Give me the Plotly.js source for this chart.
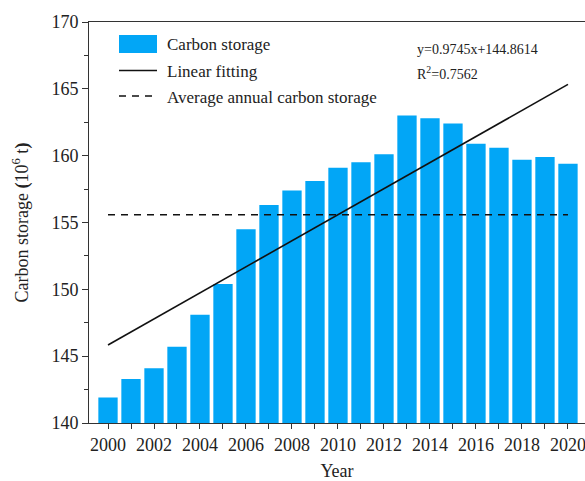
<!DOCTYPE html>
<html>
<head>
<meta charset="utf-8">
<script src="https://cdn.plot.ly/plotly-3.0.1.min.js"></script>
<style>html,body{margin:0;padding:0;overflow:hidden;background:#fff;}</style>
</head>
<body>
<div id="chart" style="width:585px;height:481px;"></div>
<script>
// ---- data ----
const years = [2000,2001,2002,2003,2004,2005,2006,2007,2008,2009,2010,2011,2012,2013,2014,2015,2016,2017,2018,2019,2020];
const carbonStorage = [141.9,143.3,144.1,145.7,148.1,150.4,154.5,156.3,157.4,158.1,159.1,159.5,160.1,163.0,162.8,162.4,160.9,160.6,159.7,159.9,159.4];
const fitYears = [2000, 2020];
const fitValues = [145.84, 165.33];
const avgYears = [2000, 2020];
const avgValues = [155.58, 155.58];
const xTickVals = [2000,2002,2004,2006,2008,2010,2012,2014,2016,2018,2020];
const xTickText = ['2000','2002','2004','2006','2008','2010','2012','2014','2016','2018','2020'];
const yTickVals = [140,145,150,155,160,165,170];
const legendNames = ['Carbon storage','Linear fitting','Average annual carbon storage'];
const equationText = 'y=0.9745x+144.8614';
const r2Text = 'R<sup>2</sup>=0.7562';

// ---- style ----
const FONT = 'Liberation Serif, Times New Roman, serif';
const BAR = '#02A6F6';
const INK = '#222';
const W = 585, H = 481;
const M = {l: 89, r: 0, t: 22, b: 58};
const PW = W - M.l - M.r, PH = H - M.t - M.b;
const px = x => (x - M.l) / PW;
const py = y => (H - M.b - y) / PH;

const traces = [
  {type:'bar', x: years, y: carbonStorage, width: 0.84, name: legendNames[0],
   marker:{color: BAR, line:{width:0}}, showlegend:false, hoverinfo:'x+y'},
  {type:'scatter', mode:'lines', x: fitYears, y: fitValues, name: legendNames[1],
   line:{color:'#111', width:1.6}, showlegend:false},
  {type:'scatter', mode:'lines', x: avgYears, y: avgValues, name: legendNames[2],
   line:{color:'#111', width:1.6, dash:'7px,6px'}, showlegend:false}
];

// manual legend (paper coordinates)
const shapes = [
  {type:'rect', xref:'paper', yref:'paper', x0: px(119), x1: px(157), y0: py(53), y1: py(35),
   fillcolor: BAR, line:{width:0}},
  {type:'line', xref:'paper', yref:'paper', x0: px(119), x1: px(157), y0: py(70.5), y1: py(70.5),
   line:{color:'#111', width:1.6}},
  {type:'line', xref:'paper', yref:'paper', x0: px(119), x1: px(157), y0: py(96), y1: py(96),
   line:{color:'#111', width:1.6, dash:'7px,6px'}}
];
const legY = [45, 71, 97];
const annotations = legendNames.map((t, i) => ({
  xref:'paper', yref:'paper', x: px(165), y: py(legY[i]), xanchor:'left', yanchor:'middle',
  text: t, showarrow:false, font:{family: FONT, size:17, color: INK}
}));
annotations.push({xref:'paper', yref:'paper', x: px(415), y: py(50), xanchor:'left', yanchor:'middle',
  text: equationText, showarrow:false, font:{family: FONT, size:14, color: INK}});
annotations.push({xref:'paper', yref:'paper', x: px(415), y: py(73), xanchor:'left', yanchor:'middle',
  text: r2Text, showarrow:false, font:{family: FONT, size:14, color: INK}});

const layout = {
  width: W, height: H, margin: M,
  paper_bgcolor:'#fff', plot_bgcolor:'#fff',
  font:{family: FONT, size:18, color: INK},
  showlegend:false,
  xaxis:{
    range:[1999.174, 2020.74], tickmode:'array', tickvals: xTickVals, ticktext: xTickText,
    ticks:'outside', ticklen:5, tickwidth:1, tickcolor:'#333',
    ticklabeloverflow:'allow',
    minor:{dtick:1, tick0:2000, ticks:'outside', ticklen:5, tickwidth:1, tickcolor:'#333'},
    showline:true, linecolor:'#333', linewidth:1, mirror:true,
    showgrid:false, zeroline:false,
    tickfont:{family: FONT, size:18, color: INK},
    title:{text:'Year', font:{family: FONT, size:18, color: INK}, standoff:22}
  },
  yaxis:{
    range:[140,170], tickmode:'array', tickvals: yTickVals,
    ticks:'outside', ticklen:6, tickwidth:1, tickcolor:'#333',
    minor:{dtick:2.5, tick0:140, ticks:'outside', ticklen:4, tickwidth:1, tickcolor:'#333'},
    showline:true, linecolor:'#333', linewidth:1, mirror:false,
    showgrid:false, zeroline:false,
    tickfont:{family: FONT, size:18, color: INK},
    title:{text:'Carbon storage <b>(</b>10<sup>6</sup> t<b>)</b>', font:{family: FONT, size:18, color: INK}, standoff:18}
  },
  shapes: shapes,
  annotations: annotations
};

Plotly.newPlot('chart', traces, layout, {displayModeBar:false, staticPlot:true});
</script>
</body>
</html>
